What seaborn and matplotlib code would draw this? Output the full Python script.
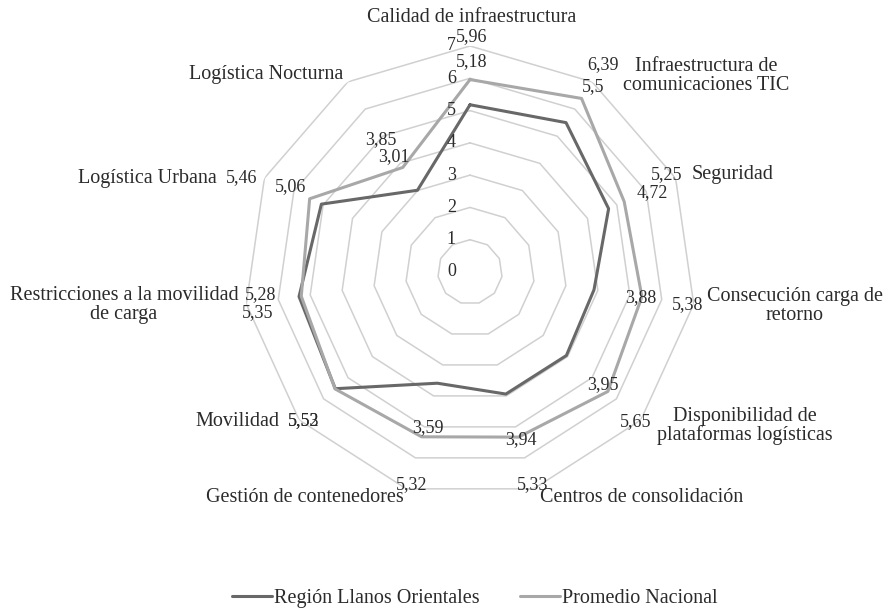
import numpy as np
import pandas as pd
import matplotlib
matplotlib.use("Agg")
import matplotlib.pyplot as plt
from matplotlib.lines import Line2D
import seaborn as sns

# datos
categorias = ["Calidad de infraestructura",
              "Infraestructura de\ncomunicaciones TIC",
              "Seguridad",
              "Consecución carga de\nretorno",
              "Disponibilidad de\nplataformas logísticas",
              "Centros de consolidación",
              "Gestión de contenedores",
              "Movilidad",
              "Restricciones a la movilidad\nde carga",
              "Logística Urbana",
              "Logística Nocturna"]
region = [5.18, 5.5, 4.72, 3.88, 3.95, 3.94, 3.59, 5.52, 5.35, 5.06, 3.01]
nacional = [5.96, 6.39, 5.25, 5.38, 5.65, 5.33, 5.32, 5.53, 5.28, 5.46, 3.85]
niveles = [0, 1, 2, 3, 4, 5, 6, 7]
series = ["Región Llanos Orientales", "Promedio Nacional"]
colores = ["#686868", "#a8a8a8"]

W, H = 891, 613
n = len(categorias)
ang = np.arange(n) * 2 * np.pi / n

filas = []
for nombre, vals in zip(series, [region, nacional]):
    for i in list(range(n)) + [0]:
        filas.append({"serie": nombre, "ang": ang[i], "valor": vals[i]})
df = pd.DataFrame(filas)

sns.set_style("white")
plt.rcParams["font.family"] = ["Liberation Serif", "DejaVu Serif"]

fig = plt.figure(figsize=(W / 100, H / 100), dpi=100)
cx, cy, rad = 470, 272, 226
ax = fig.add_axes([(cx - rad) / W, (H - cy - rad) / H, 2 * rad / W, 2 * rad / H],
                  projection="polar")
ax.set_theta_zero_location("N")
ax.set_theta_direction(-1)
ax.set_ylim(0, 7)
ax.grid(False)
ax.set_xticks([])
ax.set_yticks([])
ax.spines["polar"].set_visible(False)
ax.patch.set_alpha(0)

# anillos del radar
ang_c = np.append(ang, ang[0])
for r in niveles[1:]:
    ax.plot(ang_c, [r] * len(ang_c), color="#d0d0d0", lw=1.1, zorder=1)

sns.lineplot(data=df, x="ang", y="valor", hue="serie", palette=colores,
             sort=False, units="serie", estimator=None, lw=2.2, legend=False,
             ax=ax, zorder=3)
ax.set_xlabel("")
ax.set_ylabel("")

fs_txt = 14.5
fs_num = 13
gris = "#2b2b2b"

def px(x, y):
    return x / W, 1 - y / H

# etiquetas del eje radial
for r in niveles:
    ax.annotate(str(r), xy=(0, r), xytext=(-14, 0), textcoords="offset pixels",
                ha="right", va="center", fontsize=fs_num, color=gris)

# etiquetas de categorias
pos_cat = [(472, 18, "center"), (706, 76, "center"), (733, 175, "center"),
           (795, 306, "center"), (745, 426, "center"), (642, 497, "center"),
           (305, 497, "center"), (279, 421, "right"), (124, 305, "center"),
           (147, 178, "center"), (266, 75, "center")]
for c, (x, y, ha) in zip(categorias, pos_cat):
    fig.text(*px(x, y), c, ha=ha, va="center", fontsize=fs_txt,
             linespacing=0.98, color=gris)

# etiquetas de datos
pos_nac = [(472, 37), (603, 65), (667, 175), (688, 305), (636, 422),
           (533, 485), (412, 485), (304, 421), (261, 295), (242, 178),
           (381, 140)]
pos_reg = [(472, 62), (593, 87), (652, 193), (641, 298), (603, 385),
           (521, 440), (428, 428), (304, 421), (258, 313), (291, 187),
           (394, 157)]
for vals, pos in [(nacional, pos_nac), (region, pos_reg)]:
    for v, (x, y) in zip(vals, pos):
        fig.text(*px(x, y), f"{v:g}".replace(".", ","), ha="center",
                 va="center", fontsize=fs_num, color=gris)

handles = [Line2D([], [], color=c, lw=2.2) for c in colores]
leg = fig.legend(handles, series, loc="center", bbox_to_anchor=px(475, 598),
                 ncol=2, frameon=False, fontsize=fs_txt, handlelength=2.0,
                 handletextpad=0.1, columnspacing=2.0)
for t in leg.get_texts():
    t.set_color(gris)

fig.savefig("out.png", dpi=100)
